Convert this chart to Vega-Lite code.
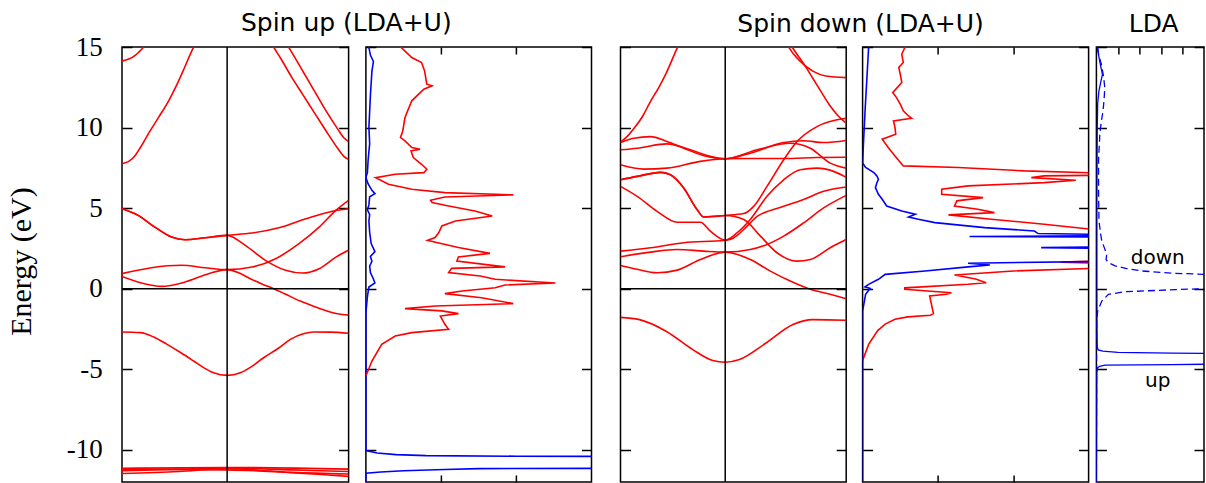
{
  "$schema": "https://vega.github.io/schema/vega-lite/v6.json",
  "background": "white",
  "padding": {"left": 5, "top": 11, "right": 0, "bottom": 0},
  "config": {
    "view": {"stroke": "#000", "strokeWidth": 1.5},
    "axis": {"domain": false, "grid": false, "tickColor": "#000", "tickWidth": 1.5, "labelColor": "#000", "titleColor": "#000"},
    "title": {"font": "DejaVu Sans", "fontSize": 25, "fontWeight": "normal", "color": "#000"}
  },
  "datasets": {
    "bandUp": [
      {"b":"B1","k":0,"e":14.14},{"b":"B1","k":0.03,"e":14.25},{"b":"B1","k":0.06,"e":14.5},{"b":"B1","k":0.096,"e":15.0},{"b":"B1","k":0.12,"e":15.4},
      {"b":"B2","k":0,"e":7.76},{"b":"B2","k":0.03,"e":7.9},{"b":"B2","k":0.06,"e":8.3},{"b":"B2","k":0.081,"e":8.76},{"b":"B2","k":0.12,"e":9.7},{"b":"B2","k":0.16,"e":10.6},{"b":"B2","k":0.206,"e":11.66},{"b":"B2","k":0.24,"e":12.6},{"b":"B2","k":0.269,"e":13.5},{"b":"B2","k":0.316,"e":14.99},{"b":"B2","k":0.34,"e":15.6},
      {"b":"B3","k":0.65,"e":15.45},{"b":"B3","k":0.669,"e":15.0},{"b":"B3","k":0.7,"e":14.3},{"b":"B3","k":0.75,"e":13.1},{"b":"B3","k":0.8,"e":12.0},{"b":"B3","k":0.85,"e":10.9},{"b":"B3","k":0.9,"e":9.8},{"b":"B3","k":0.95,"e":8.75},{"b":"B3","k":0.98,"e":8.2},{"b":"B3","k":1.0,"e":8.03},
      {"b":"B4","k":0.715,"e":15.45},{"b":"B4","k":0.735,"e":15.0},{"b":"B4","k":0.75,"e":14.65},{"b":"B4","k":0.8,"e":13.45},{"b":"B4","k":0.85,"e":12.25},{"b":"B4","k":0.9,"e":11.05},{"b":"B4","k":0.95,"e":9.95},{"b":"B4","k":0.98,"e":9.35},{"b":"B4","k":1.0,"e":9.13},
      {"b":"B5","k":0,"e":4.96},{"b":"B5","k":0.071,"e":4.55},{"b":"B5","k":0.145,"e":3.82},{"b":"B5","k":0.219,"e":3.2},{"b":"B5","k":0.278,"e":3.04},{"b":"B5","k":0.367,"e":3.16},{"b":"B5","k":0.464,"e":3.31},{"b":"B5","k":0.574,"e":3.45},{"b":"B5","k":0.692,"e":3.78},{"b":"B5","k":0.811,"e":4.34},{"b":"B5","k":0.929,"e":4.81},{"b":"B5","k":1.0,"e":4.96},
      {"b":"B6","k":0,"e":4.96},{"b":"B6","k":0.071,"e":4.55},{"b":"B6","k":0.145,"e":3.82},{"b":"B6","k":0.219,"e":3.2},{"b":"B6","k":0.278,"e":3.04},{"b":"B6","k":0.367,"e":3.16},{"b":"B6","k":0.464,"e":3.31},{"b":"B6","k":0.544,"e":2.69},{"b":"B6","k":0.633,"e":1.76},{"b":"B6","k":0.722,"e":1.14},{"b":"B6","k":0.796,"e":0.97},{"b":"B6","k":0.87,"e":1.24},{"b":"B6","k":0.944,"e":1.96},{"b":"B6","k":1.0,"e":2.38},
      {"b":"B7","k":0,"e":0.93},{"b":"B7","k":0.13,"e":1.3},{"b":"B7","k":0.263,"e":1.45},{"b":"B7","k":0.367,"e":1.3},{"b":"B7","k":0.464,"e":1.18},{"b":"B7","k":0.574,"e":1.34},{"b":"B7","k":0.678,"e":1.86},{"b":"B7","k":0.781,"e":2.79},{"b":"B7","k":0.87,"e":3.82},{"b":"B7","k":0.944,"e":4.86},{"b":"B7","k":1.0,"e":5.48},
      {"b":"B8","k":0,"e":0.76},{"b":"B8","k":0.086,"e":0.35},{"b":"B8","k":0.175,"e":0.14},{"b":"B8","k":0.278,"e":0.41},{"b":"B8","k":0.382,"e":0.93},{"b":"B8","k":0.464,"e":1.18},{"b":"B8","k":0.52,"e":0.95},{"b":"B8","k":0.566,"e":0.62},{"b":"B8","k":0.62,"e":0.28},{"b":"B8","k":0.669,"e":0.0},{"b":"B8","k":0.72,"e":-0.33},{"b":"B8","k":0.787,"e":-0.77},{"b":"B8","k":0.85,"e":-1.12},{"b":"B8","k":0.904,"e":-1.39},{"b":"B8","k":0.95,"e":-1.56},{"b":"B8","k":1.0,"e":-1.64},
      {"b":"B9","k":0,"e":-2.69},{"b":"B9","k":0.081,"e":-2.73},{"b":"B9","k":0.14,"e":-3.0},{"b":"B9","k":0.199,"e":-3.46},{"b":"B9","k":0.26,"e":-3.98},{"b":"B9","k":0.316,"e":-4.49},{"b":"B9","k":0.36,"e":-4.9},{"b":"B9","k":0.404,"e":-5.22},{"b":"B9","k":0.464,"e":-5.38},{"b":"B9","k":0.522,"e":-5.22},{"b":"B9","k":0.57,"e":-4.85},{"b":"B9","k":0.625,"e":-4.29},{"b":"B9","k":0.69,"e":-3.7},{"b":"B9","k":0.743,"e":-3.15},{"b":"B9","k":0.8,"e":-2.8},{"b":"B9","k":0.846,"e":-2.69},{"b":"B9","k":0.92,"e":-2.7},{"b":"B9","k":1.0,"e":-2.77},
      {"b":"B10","k":0,"e":-11.15},{"b":"B10","k":0.464,"e":-11.1},{"b":"B10","k":1.0,"e":-11.2},
      {"b":"B11","k":0,"e":-11.3},{"b":"B11","k":0.25,"e":-11.2},{"b":"B11","k":0.464,"e":-11.13},{"b":"B11","k":0.75,"e":-11.25},{"b":"B11","k":1.0,"e":-11.35},
      {"b":"B12","k":0,"e":-11.47},{"b":"B12","k":0.25,"e":-11.35},{"b":"B12","k":0.464,"e":-11.18},{"b":"B12","k":0.75,"e":-11.4},{"b":"B12","k":1.0,"e":-11.5},
      {"b":"B13","k":0,"e":-11.2},{"b":"B13","k":0.464,"e":-11.25},{"b":"B13","k":1.0,"e":-11.65}
    ],
    "bandDown": [
      {"b":"D1","k":0,"e":9.1},{"b":"D1","k":0.03,"e":9.45},{"b":"D1","k":0.06,"e":9.95},{"b":"D1","k":0.1,"e":10.75},{"b":"D1","k":0.13,"e":11.55},{"b":"D1","k":0.17,"e":12.5},{"b":"D1","k":0.2,"e":13.3},{"b":"D1","k":0.25,"e":14.9},{"b":"D1","k":0.27,"e":15.5},
      {"b":"D2","k":0,"e":9.07},{"b":"D2","k":0.059,"e":9.34},{"b":"D2","k":0.133,"e":9.44},{"b":"D2","k":0.206,"e":9.13},{"b":"D2","k":0.28,"e":8.72},{"b":"D2","k":0.369,"e":8.25},{"b":"D2","k":0.464,"e":8.06},{"b":"D2","k":0.575,"e":8.41},{"b":"D2","k":0.723,"e":9.07},{"b":"D2","k":0.811,"e":9.18},{"b":"D2","k":0.9,"e":9.07},{"b":"D2","k":1.0,"e":9.2},
      {"b":"D3","k":0,"e":8.62},{"b":"D3","k":0.074,"e":8.72},{"b":"D3","k":0.206,"e":8.99},{"b":"D3","k":0.31,"e":8.62},{"b":"D3","k":0.398,"e":8.21},{"b":"D3","k":0.464,"e":8.06},{"b":"D3","k":0.605,"e":8.62},{"b":"D3","k":0.752,"e":9.03},{"b":"D3","k":0.841,"e":8.72},{"b":"D3","k":0.929,"e":7.79},{"b":"D3","k":1.0,"e":7.48},
      {"b":"D4","k":0,"e":7.69},{"b":"D4","k":0.103,"e":7.42},{"b":"D4","k":0.206,"e":7.48},{"b":"D4","k":0.354,"e":7.9},{"b":"D4","k":0.464,"e":8.06},{"b":"D4","k":0.575,"e":8.08},{"b":"D4","k":0.723,"e":8.08},{"b":"D4","k":0.87,"e":8.14},{"b":"D4","k":1.0,"e":8.16},
      {"b":"D5","k":0,"e":6.76},{"b":"D5","k":0.074,"e":6.97},{"b":"D5","k":0.177,"e":7.22},{"b":"D5","k":0.221,"e":7.07},{"b":"D5","k":0.28,"e":6.25},{"b":"D5","k":0.339,"e":4.91},{"b":"D5","k":0.369,"e":4.45},{"b":"D5","k":0.464,"e":4.54},{"b":"D5","k":0.546,"e":4.66},{"b":"D5","k":0.59,"e":5.11},{"b":"D5","k":0.649,"e":6.35},{"b":"D5","k":0.723,"e":8.0},{"b":"D5","k":0.782,"e":9.13},{"b":"D5","k":0.87,"e":10.06},{"b":"D5","k":1.0,"e":10.58},
      {"b":"D6","k":0,"e":6.76},{"b":"D6","k":0.074,"e":6.97},{"b":"D6","k":0.177,"e":7.22},{"b":"D6","k":0.221,"e":7.07},{"b":"D6","k":0.28,"e":6.25},{"b":"D6","k":0.339,"e":4.91},{"b":"D6","k":0.369,"e":4.45},{"b":"D6","k":0.464,"e":4.54},{"b":"D6","k":0.546,"e":4.29},{"b":"D6","k":0.62,"e":3.26},{"b":"D6","k":0.693,"e":2.23},{"b":"D6","k":0.782,"e":1.71},{"b":"D6","k":0.841,"e":1.81},{"b":"D6","k":0.929,"e":2.54},{"b":"D6","k":1.0,"e":3.05},
      {"b":"D7","k":0,"e":6.35},{"b":"D7","k":0.074,"e":5.73},{"b":"D7","k":0.162,"e":4.8},{"b":"D7","k":0.251,"e":4.12},{"b":"D7","k":0.354,"e":4.12},{"b":"D7","k":0.398,"e":3.57},{"b":"D7","k":0.464,"e":3.01},{"b":"D7","k":0.516,"e":3.46},{"b":"D7","k":0.575,"e":4.29},{"b":"D7","k":0.649,"e":5.73},{"b":"D7","k":0.723,"e":6.76},{"b":"D7","k":0.796,"e":7.38},{"b":"D7","k":0.87,"e":7.48},{"b":"D7","k":0.944,"e":7.28},{"b":"D7","k":1.0,"e":6.91},
      {"b":"D8","k":0,"e":2.33},{"b":"D8","k":0.133,"e":2.54},{"b":"D8","k":0.28,"e":2.85},{"b":"D8","k":0.464,"e":3.01},{"b":"D8","k":0.501,"e":3.15},{"b":"D8","k":0.561,"e":3.88},{"b":"D8","k":0.605,"e":4.49},{"b":"D8","k":0.634,"e":4.7},{"b":"D8","k":0.723,"e":5.11},{"b":"D8","k":0.811,"e":5.53},{"b":"D8","k":0.9,"e":6.04},{"b":"D8","k":1.0,"e":6.31},
      {"b":"D9","k":0,"e":1.98},{"b":"D9","k":0.133,"e":2.27},{"b":"D9","k":0.251,"e":2.43},{"b":"D9","k":0.369,"e":2.33},{"b":"D9","k":0.464,"e":2.27},{"b":"D9","k":0.575,"e":2.43},{"b":"D9","k":0.649,"e":2.74},{"b":"D9","k":0.723,"e":3.26},{"b":"D9","k":0.811,"e":4.08},{"b":"D9","k":0.9,"e":5.01},{"b":"D9","k":1.0,"e":5.79},
      {"b":"D10","k":0,"e":1.44},{"b":"D10","k":0.074,"e":1.2},{"b":"D10","k":0.162,"e":0.99},{"b":"D10","k":0.251,"e":1.15},{"b":"D10","k":0.354,"e":1.81},{"b":"D10","k":0.464,"e":2.27},{"b":"D10","k":0.575,"e":1.81},{"b":"D10","k":0.664,"e":1.09},{"b":"D10","k":0.752,"e":0.47},{"b":"D10","k":0.841,"e":-0.04},{"b":"D10","k":0.929,"e":-0.35},{"b":"D10","k":1.0,"e":-0.62},
      {"b":"D11","k":0.735,"e":15.3},{"b":"D11","k":0.749,"e":14.92},{"b":"D11","k":0.79,"e":14.2},{"b":"D11","k":0.852,"e":13.5},{"b":"D11","k":0.91,"e":13.2},{"b":"D11","k":1.0,"e":13.1},
      {"b":"D12","k":0.752,"e":15.2},{"b":"D12","k":0.764,"e":14.92},{"b":"D12","k":0.81,"e":14.0},{"b":"D12","k":0.852,"e":13.06},{"b":"D12","k":0.89,"e":12.2},{"b":"D12","k":0.926,"e":11.4},{"b":"D12","k":0.96,"e":10.8},{"b":"D12","k":1.0,"e":10.27},
      {"b":"D13","k":0,"e":-1.78},{"b":"D13","k":0.084,"e":-1.92},{"b":"D13","k":0.202,"e":-2.64},{"b":"D13","k":0.32,"e":-3.78},{"b":"D13","k":0.409,"e":-4.46},{"b":"D13","k":0.464,"e":-4.57},{"b":"D13","k":0.527,"e":-4.4},{"b":"D13","k":0.645,"e":-3.37},{"b":"D13","k":0.764,"e":-2.23},{"b":"D13","k":0.852,"e":-1.92},{"b":"D13","k":1.0,"e":-1.96}
    ],
    "dosUp": [
      {"s":"r","e":15.2,"d":0.45},{"s":"r","e":14.97,"d":0.47},{"s":"r","e":14.35,"d":0.61},{"s":"r","e":14.04,"d":0.74},{"s":"r","e":13.52,"d":0.78},{"s":"r","e":12.69,"d":0.81},{"s":"r","e":12.59,"d":0.88},{"s":"r","e":12.38,"d":0.77},{"s":"r","e":11.66,"d":0.61},{"s":"r","e":10.62,"d":0.52},{"s":"r","e":9.79,"d":0.49},{"s":"r","e":9.38,"d":0.46},{"s":"r","e":9.17,"d":0.52},{"s":"r","e":8.76,"d":0.61},{"s":"r","e":8.65,"d":0.72},{"s":"r","e":8.55,"d":0.6},{"s":"r","e":8.14,"d":0.63},{"s":"r","e":7.72,"d":0.74},{"s":"r","e":7.41,"d":0.81},{"s":"r","e":7.2,"d":0.77},{"s":"r","e":7.1,"d":0.39},{"s":"r","e":6.89,"d":0.13},{"s":"r","e":6.48,"d":0.3},{"s":"r","e":6.17,"d":0.61},{"s":"r","e":5.96,"d":1.05},{"s":"r","e":5.82,"d":1.96},{"s":"r","e":5.69,"d":1.05},{"s":"r","e":5.49,"d":0.86},{"s":"r","e":5.34,"d":0.88},{"s":"r","e":5.13,"d":1.1},{"s":"r","e":4.82,"d":1.45},{"s":"r","e":4.51,"d":1.68},{"s":"r","e":4.2,"d":1.19},{"s":"r","e":3.89,"d":1.01},{"s":"r","e":3.48,"d":0.97},{"s":"r","e":3.17,"d":0.92},{"s":"r","e":3.0,"d":0.82},{"s":"r","e":2.86,"d":0.94},{"s":"r","e":2.55,"d":1.23},{"s":"r","e":2.19,"d":1.65},{"s":"r","e":1.97,"d":1.23},{"s":"r","e":1.72,"d":1.21},{"s":"r","e":1.35,"d":1.85},{"s":"r","e":1.26,"d":1.14},{"s":"r","e":1.0,"d":1.1},{"s":"r","e":0.79,"d":1.52},{"s":"r","e":0.58,"d":1.72},{"s":"r","e":0.35,"d":2.52},{"s":"r","e":0.23,"d":1.85},{"s":"r","e":0.06,"d":1.72},{"s":"r","e":-0.14,"d":1.28},{"s":"r","e":-0.31,"d":1.05},{"s":"r","e":-0.56,"d":1.54},{"s":"r","e":-0.93,"d":1.96},{"s":"r","e":-1.08,"d":0.92},{"s":"r","e":-1.24,"d":0.52},{"s":"r","e":-1.38,"d":1.01},{"s":"r","e":-1.55,"d":1.23},{"s":"r","e":-1.7,"d":0.99},{"s":"r","e":-2.21,"d":1.05},{"s":"r","e":-2.52,"d":1.1},{"s":"r","e":-2.73,"d":0.61},{"s":"r","e":-2.94,"d":0.39},{"s":"r","e":-3.46,"d":0.21},{"s":"r","e":-4.49,"d":0.08},{"s":"r","e":-5.42,"d":0.0},
      {"s":"b","e":15.2,"d":0.03},{"s":"b","e":14.5,"d":0.06},{"s":"b","e":14.1,"d":0.1},{"s":"b","e":13.5,"d":0.08},{"s":"b","e":12,"d":0.06},{"s":"b","e":10,"d":0.04},{"s":"b","e":9,"d":0.05},{"s":"b","e":8,"d":0.03},{"s":"b","e":7.2,"d":0.02},{"s":"b","e":6.9,"d":0.0},{"s":"b","e":6.5,"d":0.03},{"s":"b","e":6.1,"d":0.08},{"s":"b","e":5.9,"d":0.12},{"s":"b","e":5.7,"d":0.05},{"s":"b","e":5.2,"d":0.04},{"s":"b","e":4.9,"d":0.02},{"s":"b","e":4.6,"d":0.05},{"s":"b","e":4.2,"d":0.04},{"s":"b","e":3.5,"d":0.05},{"s":"b","e":2.8,"d":0.07},{"s":"b","e":2.3,"d":0.12},{"s":"b","e":2.0,"d":0.06},{"s":"b","e":1.7,"d":0.08},{"s":"b","e":1.4,"d":0.05},{"s":"b","e":1.0,"d":0.06},{"s":"b","e":0.6,"d":0.1},{"s":"b","e":0.35,"d":0.12},{"s":"b","e":0.1,"d":0.04},{"s":"b","e":-0.5,"d":0.02},{"s":"b","e":-1.5,"d":0.0},{"s":"b","e":-10.05,"d":0.0},{"s":"b","e":-10.2,"d":0.15},{"s":"b","e":-10.3,"d":0.4},{"s":"b","e":-10.36,"d":0.8},{"s":"b","e":-10.4,"d":2.0},{"s":"b","e":-10.42,"d":4.0},{"s":"b","e":-10.6,"d":6.0},{"s":"b","e":-11.0,"d":6.0},{"s":"b","e":-11.14,"d":4.0},{"s":"b","e":-11.17,"d":1.5},{"s":"b","e":-11.22,"d":1.05},{"s":"b","e":-11.3,"d":0.5},{"s":"b","e":-11.38,"d":0.2},{"s":"b","e":-11.45,"d":0.0},{"s":"b","e":-12,"d":0.0}
    ],
    "dosDown": [
      {"s":"r","e":15.2,"d":0.57},{"s":"r","e":14.97,"d":0.56},{"s":"r","e":14.55,"d":0.52},{"s":"r","e":14.04,"d":0.54},{"s":"r","e":13.73,"d":0.48},{"s":"r","e":13.31,"d":0.5},{"s":"r","e":12.8,"d":0.52},{"s":"r","e":12.17,"d":0.4},{"s":"r","e":11.86,"d":0.45},{"s":"r","e":11.45,"d":0.5},{"s":"r","e":11.04,"d":0.54},{"s":"r","e":10.72,"d":0.61},{"s":"r","e":10.58,"d":0.65},{"s":"r","e":10.41,"d":0.41},{"s":"r","e":10.0,"d":0.43},{"s":"r","e":9.59,"d":0.44},{"s":"r","e":9.28,"d":0.26},{"s":"r","e":8.76,"d":0.34},{"s":"r","e":8.24,"d":0.43},{"s":"r","e":7.62,"d":0.54},{"s":"r","e":7.52,"d":1.27},{"s":"r","e":7.31,"d":2.15},{"s":"r","e":7.16,"d":3.3},{"s":"r","e":7.05,"d":3.3},{"s":"r","e":7.0,"d":2.41},{"s":"r","e":6.89,"d":2.24},{"s":"r","e":6.73,"d":2.83},{"s":"r","e":6.58,"d":2.41},{"s":"r","e":6.38,"d":1.4},{"s":"r","e":6.17,"d":1.05},{"s":"r","e":5.86,"d":1.05},{"s":"r","e":5.65,"d":1.6},{"s":"r","e":5.45,"d":1.25},{"s":"r","e":5.13,"d":1.22},{"s":"r","e":4.93,"d":1.53},{"s":"r","e":4.72,"d":1.75},{"s":"r","e":4.58,"d":1.14},{"s":"r","e":4.31,"d":1.71},{"s":"r","e":4.0,"d":2.41},{"s":"r","e":3.69,"d":3.04},{"s":"r","e":3.6,"d":3.5},{"s":"r","e":3.3,"d":4},{"s":"r","e":2.0,"d":4},{"s":"r","e":1.75,"d":3.3},{"s":"r","e":1.65,"d":2.63},{"s":"r","e":1.55,"d":3.3},{"s":"r","e":1.3,"d":3.3},{"s":"r","e":1.1,"d":2.0},{"s":"r","e":0.85,"d":1.22},{"s":"r","e":0.6,"d":1.5},{"s":"r","e":0.37,"d":1.64},{"s":"r","e":0.27,"d":1.4},{"s":"r","e":0.05,"d":0.56},{"s":"r","e":-0.04,"d":0.56},{"s":"r","e":-0.25,"d":1.18},{"s":"r","e":-0.35,"d":1.11},{"s":"r","e":-0.45,"d":0.89},{"s":"r","e":-1.55,"d":0.94},{"s":"r","e":-1.65,"d":0.9},{"s":"r","e":-1.75,"d":0.6},{"s":"r","e":-1.9,"d":0.43},{"s":"r","e":-2.2,"d":0.3},{"s":"r","e":-2.6,"d":0.2},{"s":"r","e":-3.46,"d":0.08},{"s":"r","e":-4.45,"d":0.0},
      {"s":"b","e":15.2,"d":0.09},{"s":"b","e":14.97,"d":0.08},{"s":"b","e":13.31,"d":0.06},{"s":"b","e":11.24,"d":0.035},{"s":"b","e":9.17,"d":0.013},{"s":"b","e":7.8,"d":0.0},{"s":"b","e":7.52,"d":0.04},{"s":"b","e":7.2,"d":0.15},{"s":"b","e":7.0,"d":0.19},{"s":"b","e":6.79,"d":0.21},{"s":"b","e":6.58,"d":0.19},{"s":"b","e":6.27,"d":0.17},{"s":"b","e":5.86,"d":0.21},{"s":"b","e":5.55,"d":0.26},{"s":"b","e":5.13,"d":0.32},{"s":"b","e":4.82,"d":0.52},{"s":"b","e":4.62,"d":0.7},{"s":"b","e":4.45,"d":0.61},{"s":"b","e":4.31,"d":0.74},{"s":"b","e":4.1,"d":0.96},{"s":"b","e":3.79,"d":1.62},{"s":"b","e":3.58,"d":2.28},{"s":"b","e":3.42,"d":2.33},{"s":"b","e":3.36,"d":3.3},{"s":"b","e":3.28,"d":3.3},{"s":"b","e":3.24,"d":1.42},{"s":"b","e":3.2,"d":3.3},{"s":"b","e":2.6,"d":3.3},{"s":"b","e":2.55,"d":2.37},{"s":"b","e":2.5,"d":3.3},{"s":"b","e":1.7,"d":3.3},{"s":"b","e":1.58,"d":1.4},{"s":"b","e":1.47,"d":1.69},{"s":"b","e":1.35,"d":1.4},{"s":"b","e":1.1,"d":0.83},{"s":"b","e":0.89,"d":0.3},{"s":"b","e":0.58,"d":0.21},{"s":"b","e":0.27,"d":0.08},{"s":"b","e":0.11,"d":0.03},{"s":"b","e":0.02,"d":0.1},{"s":"b","e":-0.35,"d":0.04},{"s":"b","e":-1.39,"d":0.0},{"s":"b","e":-12,"d":0.0}
    ],
    "lda": [
      {"s":"u","e":15.2,"d":0.05},{"s":"u","e":14.5,"d":0.1},{"s":"u","e":13.8,"d":0.2},{"s":"u","e":13.3,"d":0.28},{"s":"u","e":12.8,"d":0.2},{"s":"u","e":12.3,"d":0.12},{"s":"u","e":11.5,"d":0.06},{"s":"u","e":10,"d":0.04},{"s":"u","e":8,"d":0.03},{"s":"u","e":5,"d":0.02},{"s":"u","e":0,"d":0.02},{"s":"u","e":-3.0,"d":0.03},{"s":"u","e":-3.6,"d":0.04},{"s":"u","e":-3.8,"d":0.08},{"s":"u","e":-3.88,"d":0.3},{"s":"u","e":-3.95,"d":1.0},{"s":"u","e":-4.0,"d":3.5},{"s":"u","e":-4.03,"d":6},{"s":"u","e":-4.4,"d":9},{"s":"u","e":-4.68,"d":6},{"s":"u","e":-4.71,"d":3.5},{"s":"u","e":-4.74,"d":0.4},{"s":"u","e":-4.82,"d":0.15},{"s":"u","e":-4.9,"d":0.06},{"s":"u","e":-5.2,"d":0.02},{"s":"u","e":-12,"d":0.0},
      {"s":"d","e":15.2,"d":0.0},{"s":"d","e":14.97,"d":0.03},{"s":"d","e":14.3,"d":0.15},{"s":"d","e":13.93,"d":0.23},{"s":"d","e":13.2,"d":0.33},{"s":"d","e":12.48,"d":0.39},{"s":"d","e":11.8,"d":0.36},{"s":"d","e":11.04,"d":0.31},{"s":"d","e":10.3,"d":0.22},{"s":"d","e":9.59,"d":0.16},{"s":"d","e":8,"d":0.1},{"s":"d","e":6,"d":0.1},{"s":"d","e":4.2,"d":0.12},{"s":"d","e":3.37,"d":0.2},{"s":"d","e":2.96,"d":0.25},{"s":"d","e":2.5,"d":0.38},{"s":"d","e":2.13,"d":0.48},{"s":"d","e":1.8,"d":0.45},{"s":"d","e":1.62,"d":0.56},{"s":"d","e":1.41,"d":0.87},{"s":"d","e":1.25,"d":1.4},{"s":"d","e":1.1,"d":2.11},{"s":"d","e":0.95,"d":3.66},{"s":"d","e":0.89,"d":5.05},{"s":"d","e":0.85,"d":7},{"s":"d","e":0.1,"d":7},{"s":"d","e":0.03,"d":5.2},{"s":"d","e":0.0,"d":5.05},{"s":"d","e":-0.06,"d":3.66},{"s":"d","e":-0.19,"d":1.33},{"s":"d","e":-0.35,"d":0.56},{"s":"d","e":-0.77,"d":0.25},{"s":"d","e":-1.39,"d":0.06},{"s":"d","e":-2.0,"d":0.01},{"s":"d","e":-12,"d":0.0}
    ],
    "notes": [
      {"t":"down","d":2.85,"e":1.55},
      {"t":"up","d":2.85,"e":-6.1}
    ]
  },
  "spacing": 25.5,
  "hconcat": [
    {
      "title": {"text": "Spin up (LDA+U)", "anchor": "middle", "frame": "bounds", "baseline": "alphabetic", "offset": -24, "dx": 47},
      "spacing": 12.9,
      "hconcat": [
        {
          "width": 226.6, "height": 435,
          "layer": [
            {
              "data": {"name": "bandUp"},
              "mark": {"type": "line", "color": "#ff0000", "strokeWidth": 1.6, "clip": true, "interpolate": "monotone"},
              "encoding": {
                "x": {"field": "k", "type": "quantitative", "scale": {"domain": [0, 1], "nice": false, "zero": false}, "axis": null},
                "y": {"field": "e", "type": "quantitative", "scale": {"domain": [-12, 15], "nice": false, "zero": false},
                      "axis": {"orient": "left", "values": [-10, -5, 0, 5, 10, 15], "tickSize": -10, "labelPadding": 29.7, "labelExpr": "'' + datum.value", "labelFont": "Liberation Serif", "labelFontSize": 27, "title": "Energy (eV)", "titleFont": "Liberation Serif", "titleFontSize": 30, "titleFontWeight": "normal", "titlePadding": 30, "titleY": 214}},
                "detail": {"field": "b"}
              }
            },
            {
              "data": {"values": [{}]},
              "mark": {"type": "rule", "color": "#000", "strokeWidth": 1.5},
              "encoding": {"y": {"datum": 0, "type": "quantitative", "axis": {"orient": "right", "values": [-10, -5, 0, 5, 10, 15], "tickSize": -10, "labels": false, "title": null}}}
            },
            {
              "data": {"values": [{}]},
              "mark": {"type": "rule", "color": "#000", "strokeWidth": 1.5},
              "encoding": {"x": {"datum": 0.464, "type": "quantitative", "axis": null}}
            }
          ],
          "resolve": {"axis": {"y": "independent"}}
        },
        {
          "width": 225.6, "height": 435,
          "data": {"name": "dosUp"},
          "layer": [
            {
              "transform": [{"filter": "datum.s == 'b'"}],
              "mark": {"type": "line", "color": "#0000ff", "strokeWidth": 1.6, "clip": true},
              "encoding": {
                "x": {"field": "d", "type": "quantitative", "scale": {"domain": [0, 3], "nice": false, "zero": false}, "axis": {"orient": "top", "values": [1, 2], "tickSize": -7, "labels": false, "title": null}},
                "y": {"field": "e", "type": "quantitative", "scale": {"domain": [-12, 15], "nice": false, "zero": false}, "axis": {"orient": "right", "values": [-10, -5, 0, 5, 10, 15], "tickSize": -10, "labels": false, "title": null}},
                "order": {"field": "e", "type": "quantitative"}
              }
            },
            {
              "transform": [{"filter": "datum.s == 'r'"}],
              "mark": {"type": "line", "color": "#ff0000", "strokeWidth": 1.6, "clip": true},
              "encoding": {
                "x": {"field": "d", "type": "quantitative", "scale": {"domain": [0, 3], "nice": false, "zero": false}, "axis": {"orient": "bottom", "values": [1, 2], "tickSize": -7, "labels": false, "title": null}},
                "y": {"field": "e", "type": "quantitative", "scale": {"domain": [-12, 15], "nice": false, "zero": false}, "axis": {"orient": "left", "values": [-10, -5, 0, 5, 10, 15], "tickSize": -10, "labels": false, "title": null}},
                "order": {"field": "e", "type": "quantitative"}
              }
            }
          ],
          "resolve": {"axis": {"x": "independent", "y": "independent"}}
        }
      ]
    },
    {
      "spacing": 3.9,
      "hconcat": [
        {
          "title": {"text": "Spin down (LDA+U)", "anchor": "middle", "frame": "bounds", "baseline": "alphabetic", "offset": -11, "dx": 6},
          "spacing": 12.1,
          "hconcat": [
            {
              "width": 225.7, "height": 435,
              "layer": [
                {
                  "data": {"name": "bandDown"},
                  "mark": {"type": "line", "color": "#ff0000", "strokeWidth": 1.6, "clip": true, "interpolate": "monotone"},
                  "encoding": {
                    "x": {"field": "k", "type": "quantitative", "scale": {"domain": [0, 1], "nice": false, "zero": false}, "axis": null},
                    "y": {"field": "e", "type": "quantitative", "scale": {"domain": [-12, 15], "nice": false, "zero": false}, "axis": {"orient": "left", "values": [-10, -5, 0, 5, 10, 15], "tickSize": -10, "labels": false, "title": null}},
                    "detail": {"field": "b"}
                  }
                },
                {
                  "data": {"values": [{}]},
                  "mark": {"type": "rule", "color": "#000", "strokeWidth": 1.5},
                  "encoding": {"y": {"datum": 0, "type": "quantitative", "axis": {"orient": "right", "values": [-10, -5, 0, 5, 10, 15], "tickSize": -10, "labels": false, "title": null}}}
                },
                {
                  "data": {"values": [{}]},
                  "mark": {"type": "rule", "color": "#000", "strokeWidth": 1.5},
                  "encoding": {"x": {"datum": 0.464, "type": "quantitative", "axis": null}}
                }
              ],
              "resolve": {"axis": {"y": "independent"}}
            },
            {
              "width": 226, "height": 435,
              "data": {"name": "dosDown"},
              "layer": [
                {
                  "transform": [{"filter": "datum.s == 'r'"}],
                  "mark": {"type": "line", "color": "#ff0000", "strokeWidth": 1.6, "clip": true},
                  "encoding": {
                    "x": {"field": "d", "type": "quantitative", "scale": {"domain": [0, 3], "nice": false, "zero": false}, "axis": {"orient": "bottom", "values": [1, 2], "tickSize": -7, "labels": false, "title": null}},
                    "y": {"field": "e", "type": "quantitative", "scale": {"domain": [-12, 15], "nice": false, "zero": false}, "axis": {"orient": "left", "values": [-10, -5, 0, 5, 10, 15], "tickSize": -10, "labels": false, "title": null}},
                    "order": {"field": "e", "type": "quantitative"}
                  }
                },
                {
                  "transform": [{"filter": "datum.s == 'b'"}],
                  "mark": {"type": "line", "color": "#0000ff", "strokeWidth": 1.6, "clip": true},
                  "encoding": {
                    "x": {"field": "d", "type": "quantitative", "scale": {"domain": [0, 3], "nice": false, "zero": false}, "axis": {"orient": "top", "values": [1, 2], "tickSize": -7, "labels": false, "title": null}},
                    "y": {"field": "e", "type": "quantitative", "scale": {"domain": [-12, 15], "nice": false, "zero": false}, "axis": {"orient": "right", "values": [-10, -5, 0, 5, 10, 15], "tickSize": -10, "labels": false, "title": null}},
                    "order": {"field": "e", "type": "quantitative"}
                  }
                }
              ],
              "resolve": {"axis": {"x": "independent", "y": "independent"}}
            }
          ]
        },
        {
          "title": {"text": "LDA", "anchor": "middle", "frame": "bounds", "baseline": "alphabetic", "offset": -11, "dx": 3.5},
          "width": 107.6, "height": 435,
          "layer": [
            {
              "data": {"name": "lda"},
              "transform": [{"filter": "datum.s == 'u'"}],
              "mark": {"type": "line", "color": "#0000ff", "strokeWidth": 1.3, "clip": true},
              "encoding": {
                "x": {"field": "d", "type": "quantitative", "scale": {"domain": [0, 5], "nice": false, "zero": false}, "axis": {"orient": "top", "values": [1, 2, 3, 4], "tickSize": -7, "labels": false, "title": null}},
                "y": {"field": "e", "type": "quantitative", "scale": {"domain": [-12, 15], "nice": false, "zero": false}, "axis": {"orient": "left", "values": [-10, -5, 0, 5, 10, 15], "tickSize": -10, "labels": false, "title": null}},
                "order": {"field": "e", "type": "quantitative"}
              }
            },
            {
              "data": {"name": "lda"},
              "transform": [{"filter": "datum.s == 'd'"}],
              "mark": {"type": "line", "color": "#0000ff", "strokeWidth": 1.3, "strokeDash": [7, 4], "clip": true},
              "encoding": {
                "x": {"field": "d", "type": "quantitative", "scale": {"domain": [0, 5], "nice": false, "zero": false}, "axis": null},
                "y": {"field": "e", "type": "quantitative", "scale": {"domain": [-12, 15], "nice": false, "zero": false}, "axis": {"orient": "right", "values": [-10, -5, 0, 5, 10, 15], "tickSize": -10, "labels": false, "title": null}},
                "order": {"field": "e", "type": "quantitative"}
              }
            },
            {
              "data": {"name": "notes"},
              "mark": {"type": "text", "font": "DejaVu Sans", "fontSize": 20, "color": "#000", "align": "center", "baseline": "alphabetic"},
              "encoding": {
                "x": {"field": "d", "type": "quantitative", "axis": null},
                "y": {"field": "e", "type": "quantitative", "axis": null},
                "text": {"field": "t"}
              }
            }
          ],
          "resolve": {"axis": {"x": "independent", "y": "independent"}}
        }
      ]
    }
  ]
}
